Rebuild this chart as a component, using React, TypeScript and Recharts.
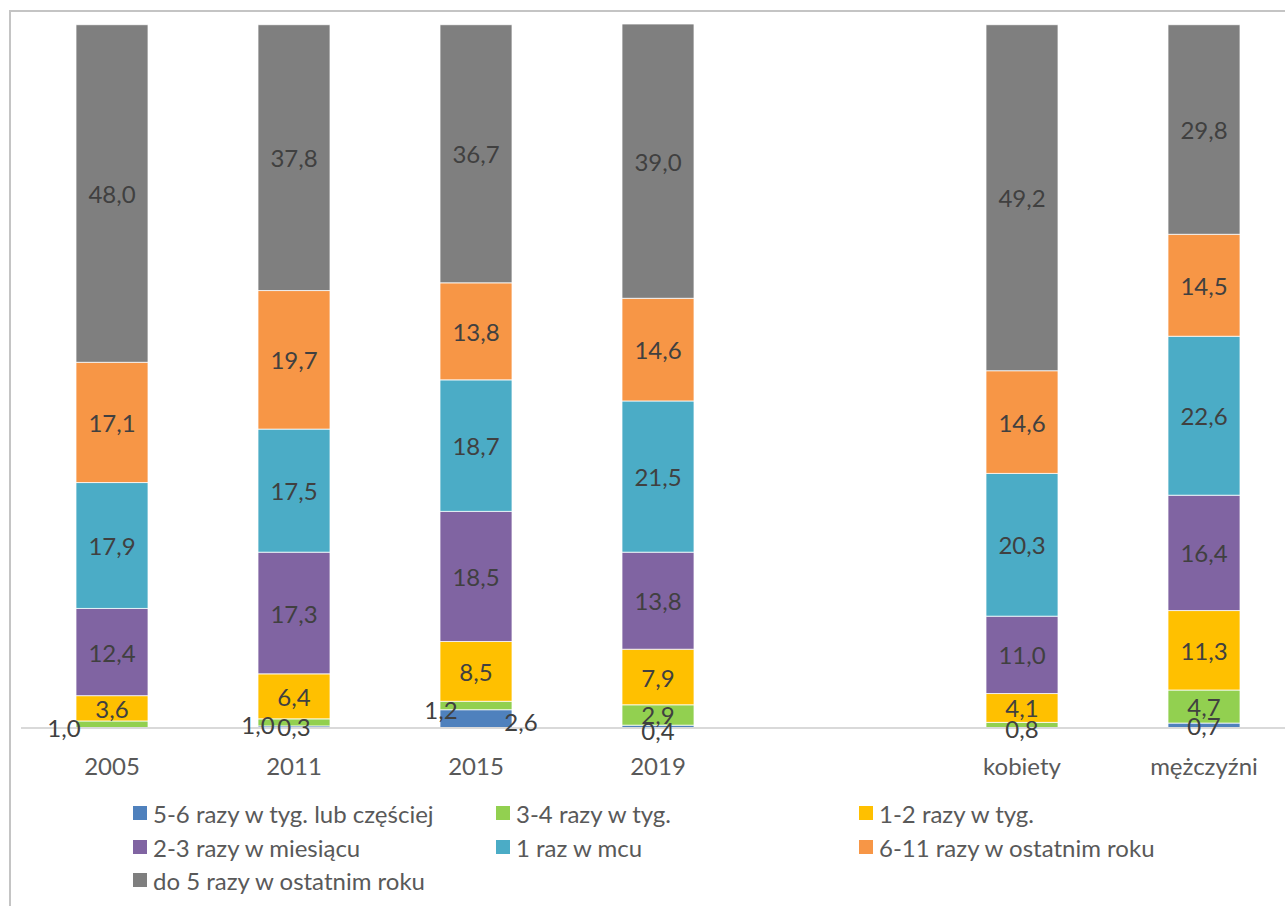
import React from "react";
import { BarChart, Bar, XAxis, YAxis, LabelList } from "recharts";

// kategorie na osi X (pusta kolumna oddziela lata od płci)
const categories = ["2005", "2011", "2015", "2019", "", "kobiety", "mężczyźni"];

const seriesNames = [
  "5-6 razy w tyg. lub częściej",
  "3-4 razy w tyg.",
  "1-2 razy w tyg.",
  "2-3 razy w miesiącu",
  "1 raz w mcu",
  "6-11 razy w ostatnim roku",
  "do 5 razy w ostatnim roku",
];
const seriesColors = ["#4F81BD", "#92D050", "#FFC000", "#8064A2", "#4BACC6", "#F79646", "#7F7F7F"];

// wartości w %
const perWeek56 = [null, 0.3, 2.6, 0.4, null, null, 0.7];
const perWeek34 = [1.0, 1.0, 1.2, 2.9, null, 0.8, 4.7];
const perWeek12 = [3.6, 6.4, 8.5, 7.9, null, 4.1, 11.3];
const perMonth23 = [12.4, 17.3, 18.5, 13.8, null, 11.0, 16.4];
const perMonth1 = [17.9, 17.5, 18.7, 21.5, null, 20.3, 22.6];
const perYear611 = [17.1, 19.7, 13.8, 14.6, null, 14.6, 14.5];
const perYear5 = [48.0, 37.8, 36.7, 39.0, null, 49.2, 29.8];

const seriesValues = [perWeek56, perWeek34, perWeek12, perMonth23, perMonth1, perYear611, perYear5];

const data = categories.map((name, i) => {
  const row: Record<string, any> = { name };
  seriesValues.forEach((vals, s) => {
    row["s" + s] = vals[i];
  });
  return row;
});

// przesunięcia etykiet odsuniętych od małych segmentów (seria|kategoria)
const labelNudges: Record<string, { dx: number; dy: number }> = {
  "1|2005": { dx: -48, dy: 3 },
  "1|2011": { dx: -36, dy: 2 },
  "1|2015": { dx: -35, dy: 4 },
  "0|2015": { dx: 45, dy: 3 },
  "0|2019": { dx: 0, dy: 4 },
  "1|kobiety": { dx: 0, dy: 3 },
};

const FONT = "Lato, 'Open Sans', sans-serif";
const fmt = (v: number) => v.toFixed(1).replace(".", ",");

const makeLabel = (s: number) => (props: any) => {
  const raw = props.value;
  if (raw == null) return null;
  const [cat, vs] = String(raw).split("|");
  if (vs === "" || vs === "null" || vs === "undefined") return null;
  const v = Number(vs);
  if (!v) return null;
  const vb = props.viewBox && props.viewBox.width != null ? props.viewBox : props;
  const n = labelNudges[s + "|" + cat] || { dx: 0, dy: 0 };
  const cx = Number(vb.x) + Number(vb.width) / 2 + n.dx;
  const cy = Number(vb.y) + Number(vb.height) / 2 + n.dy;
  return (
    <text
      key={"l" + s + cat}
      x={cx}
      y={cy}
      textAnchor="middle"
      dominantBaseline="central"
      fill="#404040"
      fontSize={24}
      fontFamily={FONT}
    >
      {fmt(v)}
    </text>
  );
};

const legendCols = [133, 496, 859];
const legendRows = [813, 847, 880];

export default function App() {
  return (
    <div
      style={{
        position: "fixed",
        left: 0,
        top: 0,
        width: 1285,
        height: 906,
        overflow: "hidden",
        background: "#fff",
        fontFamily: FONT,
      }}
    >
      <div
        style={{
          position: "absolute",
          left: 9,
          top: 10,
          width: 1400,
          height: 1000,
          border: "2px solid #C4C4C4",
          boxSizing: "border-box",
        }}
      />
      <div style={{ position: "absolute", left: 0, top: 0 }}>
        <BarChart
          width={1300}
          height={906}
          data={data}
          margin={{ top: 24, right: 5, left: 21, bottom: 0 }}
        >
          <XAxis
            dataKey="name"
            height={178}
            axisLine={{ stroke: "#D9D9D9", strokeWidth: 2 }}
            tickLine={false}
            tickMargin={24}
            interval={0}
            tick={{ fill: "#595959", fontSize: 24, fontFamily: FONT }}
          />
          <YAxis hide domain={[0, 100]} />
          {seriesNames.map((nm, s) => (
            <Bar
              key={nm}
              dataKey={"s" + s}
              name={nm}
              stackId="a"
              barSize={72}
              fill={seriesColors[s]}
              stroke="#FFFFFF"
              strokeWidth={0.75}
              isAnimationActive={false}
            >
              <LabelList
                dataKey={(row: any) => row.name + "|" + row["s" + s]}
                content={makeLabel(s)}
              />
            </Bar>
          ))}
        </BarChart>
      </div>
      {seriesNames.map((nm, s) => {
        const col = s % 3;
        const row = Math.floor(s / 3);
        return (
          <div
            key={nm}
            style={{
              position: "absolute",
              left: legendCols[col],
              top: legendRows[row] - 15,
              height: 30,
              display: "flex",
              alignItems: "center",
              whiteSpace: "nowrap",
              color: "#595959",
              fontSize: 24,
            }}
          >
            <span
              style={{
                display: "inline-block",
                width: 14,
                height: 14,
                background: seriesColors[s],
                marginRight: 6,
              }}
            />
            {nm}
          </div>
        );
      })}
    </div>
  );
}
